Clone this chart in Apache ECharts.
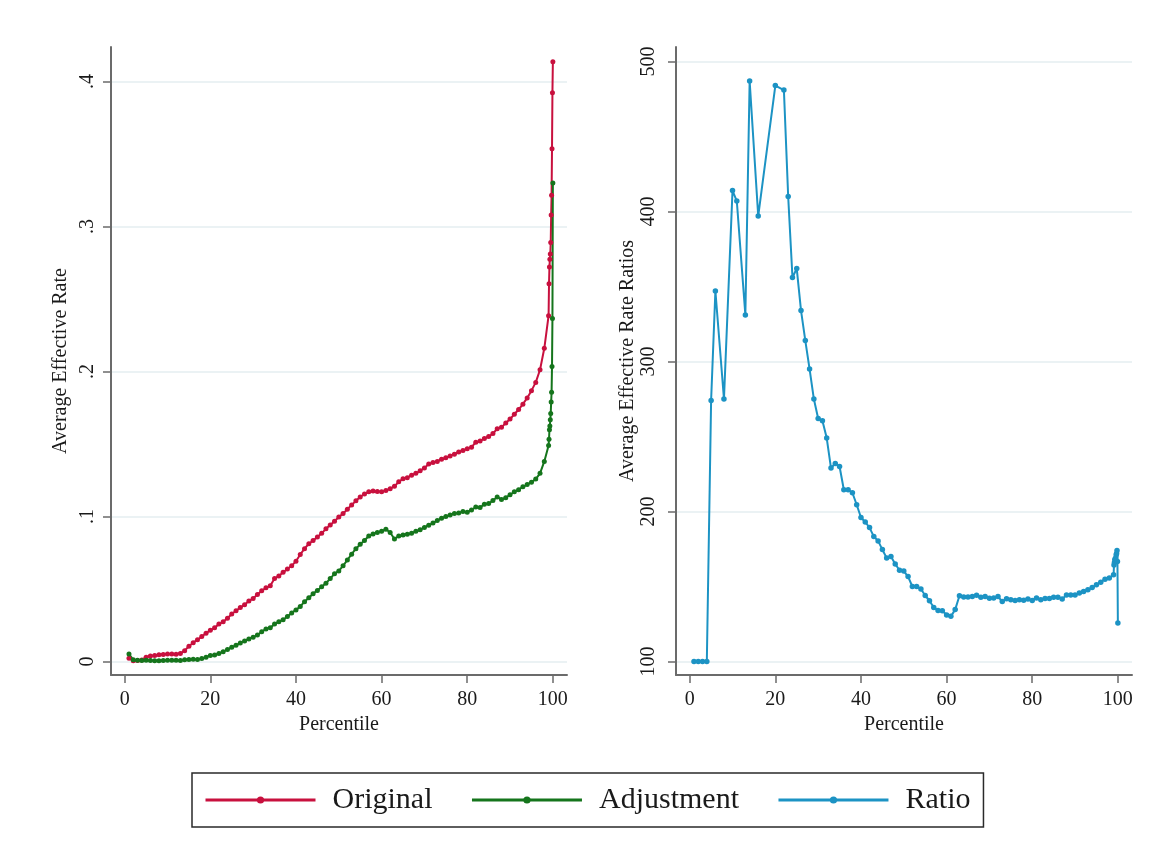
<!DOCTYPE html>
<html>
<head>
<meta charset="utf-8">
<script src="https://cdn.jsdelivr.net/npm/echarts@6/dist/echarts.min.js"></script>
<style>
  html, body { margin: 0; padding: 0; background: #ffffff; }
  #chart { width: 1172px; height: 853px; }
</style>
</head>
<body>
<div id="chart"></div>
<script>
// Percentile positions shared by the two rate series (fine steps inside the top percentile)
const percentiles = [
  1, 2, 3, 4, 5, 6, 7, 8, 9, 10, 11, 12, 13, 14, 15, 16, 17, 18, 19, 20,
  21, 22, 23, 24, 25, 26, 27, 28, 29, 30, 31, 32, 33, 34, 35, 36, 37, 38, 39, 40,
  41, 42, 43, 44, 45, 46, 47, 48, 49, 50, 51, 52, 53, 54, 55, 56, 57, 58, 59, 60,
  61, 62, 63, 64, 65, 66, 67, 68, 69, 70, 71, 72, 73, 74, 75, 76, 77, 78, 79, 80,
  81, 82, 83, 84, 85, 86, 87, 88, 89, 90, 91, 92, 93, 94, 95, 96, 97, 98, 99,
  99.1, 99.2, 99.3, 99.4, 99.5, 99.6, 99.7, 99.8, 99.9, 100
];

// Average effective rate, original schedule
const originalRate = [
  .0023, .0005, .0007, .0010, .0030, .0038, .0042, .0046, .0049, .0052,
  .0052, .0050, .0056, .0075, .0105, .0130, .0150, .0172, .0195, .0215,
  .0232, .0258, .0274, .0298, .0328, .0350, .0372, .0392, .0418, .0434,
  .0462, .0488, .0508, .0522, .0572, .0590, .0615, .0638, .0660, .0692,
  .0738, .0778, .0812, .0834, .0858, .0884, .0915, .0942, .0968, .0996,
  .1020, .1050, .1080, .1108, .1135, .1155, .1170, .1176, .1173, .1170,
  .1180, .1192, .1208, .1240, .1260, .1268, .1285, .1298, .1315, .1335,
  .1362, .1372, .1380, .1395, .1405, .1418, .1430, .1445, .1455, .1468,
  .1478, .1512, .1520, .1538, .1552, .1572, .1605, .1615, .1645, .1672,
  .1705, .1738, .1775, .1818, .1868, .1925, .2012, .2160, .2385,
  .2605, .2720, .2775, .2810, .2890, .3080, .3215, .3537, .3923, .4137
];

// Average effective rate after the adjustment
const adjustedRate = [
  .0052, .0012, .0008, .0007, .0008, .0007, .0006, .0006, .0007, .0009,
  .0008, .0009, .0007, .0012, .0014, .0016, .0014, .0020, .0030, .0042,
  .0045, .0055, .0068, .0082, .0098, .0112, .0128, .0142, .0156, .0168,
  .0182, .0205, .0225, .0232, .0258, .0275, .0288, .0310, .0335, .0356,
  .0380, .0412, .0440, .0468, .0490, .0515, .0540, .0572, .0605, .0625,
  .0660, .0700, .0740, .0778, .0808, .0835, .0866, .0880, .0890, .0898,
  .0912, .0890, .0845, .0866, .0872, .0878, .0885, .0898, .0908, .0925,
  .0940, .0955, .0972, .0988, .1000, .1010, .1020, .1025, .1034, .1030,
  .1045, .1066, .1062, .1085, .1090, .1110, .1135, .1118, .1130, .1150,
  .1170, .1185, .1205, .1220, .1237, .1258, .1298, .1380, .1490,
  .1533, .1598, .1625, .1667, .1710, .1789, .1857, .2034, .2365, .3300
];

// Ratio of the two rates (only where it is defined)
const ratioPercentiles = [
  1, 2, 3, 4, 5, 6, 8, 10, 11, 13, 14, 16, 20, 22,
  23, 24, 25, 26, 27, 28, 29, 30, 31, 32, 33, 34, 35, 36, 37, 38, 39, 40,
  41, 42, 43, 44, 45, 46, 47, 48, 49, 50, 51, 52, 53, 54, 55, 56, 57, 58, 59, 60,
  61, 62, 63, 64, 65, 66, 67, 68, 69, 70, 71, 72, 73, 74, 75, 76, 77, 78, 79, 80,
  81, 82, 83, 84, 85, 86, 87, 88, 89, 90, 91, 92, 93, 94, 95, 96, 97, 98, 99,
  99.1, 99.2, 99.3, 99.4, 99.5, 99.6, 99.7, 99.8, 99.9, 100
];
const ratioValues = [
  100, 100, 100, 100, 274, 347, 275, 414, 407, 331, 487, 397, 484, 481,
  410, 356, 362, 334, 314, 295, 275, 262, 260.5, 249, 229, 232, 230, 214.5, 214.5, 212.5, 204.5, 196,
  193, 189.3, 183.3, 180.4, 174.6, 169, 170, 165, 160.8, 160.3, 156.6, 150, 150, 148.3, 144, 140.5, 136, 134, 133.8, 131,
  130.1, 134.6, 143.8, 143, 143, 143.4, 144.2, 142.9, 143.3, 142.2, 142.4, 143.3, 140, 141.8, 141.1, 140.7, 141.1, 140.9, 141.6, 140.7,
  142.4, 141.1, 142, 142, 142.9, 142.9, 141.6, 144.4, 144.4, 144.4, 145.6, 146.7, 147.8, 149.3, 151.1, 152.9, 154.9, 155.6, 157.8,
  164.4, 166, 168.2, 167.5, 169, 171, 172, 174, 166.7, 125.6
];

// Tick labels
const xTicks = [0, 20, 40, 60, 80, 100];
const rateTicks = [0, 0.1, 0.2, 0.3, 0.4];
const ratioTicks = [100, 200, 300, 400, 500];

const SERIF = '"Liberation Serif", "Times New Roman", serif';
const INK = '#1a1a1a';
const AXIS = '#6b6b6b';
const GRID = '#e5eef0';
const RED = '#c8103e';
const GREEN = '#15751c';
const BLUE = '#1c93c4';

const pairs = (xs, ys) => xs.map((x, i) => [x, ys[i]]);

function percentileAxis(gridIndex) {
  return {
    type: 'value', gridIndex: gridIndex, min: -3.2, max: 103.3,
    name: 'Percentile', nameLocation: 'middle', nameGap: 40,
    nameTextStyle: { fontFamily: SERIF, fontSize: 20, color: INK },
    axisLine: { show: true, onZero: false, lineStyle: { color: AXIS, width: 2 } },
    axisTick: { show: true, length: 8, customValues: xTicks, lineStyle: { color: AXIS, width: 1.5 } },
    axisLabel: { customValues: xTicks, fontFamily: SERIF, fontSize: 20, color: INK, margin: 15 },
    splitLine: { show: false }
  };
}

function valueAxis(gridIndex, min, max, ticks, title, fmt, labelMargin, gap) {
  return {
    type: 'value', gridIndex: gridIndex, min: min, max: max,
    name: title, nameLocation: 'middle', nameGap: gap, nameRotate: 90,
    nameTextStyle: { fontFamily: SERIF, fontSize: 20, color: INK },
    axisLine: { show: true, onZero: false, lineStyle: { color: AXIS, width: 2 } },
    axisTick: { show: true, length: 8, customValues: ticks, lineStyle: { color: AXIS, width: 1.5 } },
    axisLabel: { customValues: ticks, rotate: 90, fontFamily: SERIF, fontSize: 20, color: INK,
                 margin: labelMargin, formatter: fmt },
    splitLine: { show: true, lineStyle: { color: GRID, width: 1.5 } }
  };
}

function lineSeries(name, color, xIdx, yIdx, data, size) {
  return {
    name: name, type: 'line', xAxisIndex: xIdx, yAxisIndex: yIdx, data: data,
    symbol: 'circle', symbolSize: size, showSymbol: true, showAllSymbol: true,
    lineStyle: { color: color, width: 2 }, itemStyle: { color: color },
    emphasis: { disabled: true }, z: 3
  };
}

const chart = echarts.init(document.getElementById('chart'), null, { renderer: 'canvas' });
chart.setOption({
  animation: false,
  backgroundColor: '#ffffff',
  grid: [
    { left: 111, top: 47, width: 456, height: 628 },
    { left: 676, top: 47, width: 456, height: 628 }
  ],
  xAxis: [percentileAxis(0), percentileAxis(1)],
  yAxis: [
    valueAxis(0, -0.0093, 0.4238, rateTicks, 'Average Effective Rate',
      v => (v === 0 ? '0' : String(v).replace(/^0/, '')), 13, 40),
    valueAxis(1, 91, 509.7, ratioTicks, 'Average Effective Rate Ratios',
      v => String(v), 17, 38)
  ],
  legend: {
    left: 192, top: 773,
    padding: [9, 13, 9, 12],
    borderColor: '#2a2a2a', borderWidth: 1.5,
    itemWidth: 110, itemHeight: 9, itemGap: 38,
    lineStyle: { width: 3 },
    textStyle: { fontFamily: SERIF, fontSize: 30, color: INK, padding: [0, 0, 0, 12], lineHeight: 36 },
    data: ['Original', 'Adjustment', 'Ratio']
  },
  series: [
    lineSeries('Original', RED, 0, 0, pairs(percentiles, originalRate), 5),
    lineSeries('Adjustment', GREEN, 0, 0, pairs(percentiles, adjustedRate), 5),
    lineSeries('Ratio', BLUE, 1, 1, pairs(ratioPercentiles, ratioValues), 5.5)
  ]
});
</script>
</body>
</html>
